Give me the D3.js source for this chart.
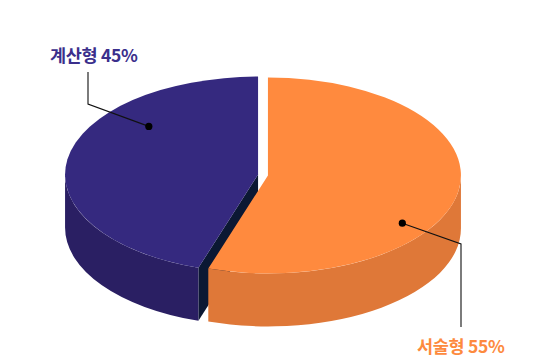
<!DOCTYPE html>
<html>
<head>
<meta charset="utf-8">
<script src="https://cdn.jsdelivr.net/npm/d3@7"></script>
<style>
  html, body { margin: 0; padding: 0; background: #fff; }
  svg { display: block; }
  .label { font-family: "Noto Sans CJK KR", "Noto Sans", sans-serif; font-weight: 700; font-size: 17.5px; letter-spacing: -0.3px; }
</style>
</head>
<body>
<svg id="chart" width="540" height="364"></svg>
<script>
const WIDTH = 540;
const HEIGHT = 364;

// data
const categories = ["서술형", "계산형"];
const values = [55, 45];
const topColors = ["#ff8a3e", "#35297f"];
const sideColors = ["#df7838", "#2a1f63"];
const cutColors = ["#a9521f", "#0b1833"];
const labelColors = ["#fd8a3e", "#3b2f8c"];

// geometry
const CX = 263, CY = 175;
const RX = 193, RY = 98;
const DEPTH = 53;
const EXPLODE = 5;

// where each label's dot sits on the top face (angle in degrees, radius fraction)
const dotSpots = [[125, 0.85], [311, 0.75]];
// elbow + text anchor for each leader
const leaders = [
  { elbow: [461, 244], end: [461, 327], text: [417, 353] },
  { elbow: [88, 104], end: [88, 72], text: [50, 62] }
];

const svg = d3.select("#chart");

const pie = d3.pie().sort(null).value(d => d);
const arcs = pie(values);

const pt = (c, a, f = 1, dz = 0) => [c[0] + RX * f * Math.sin(a), c[1] - RY * f * Math.cos(a) + dz];

arcs.forEach((d, i) => {
  const mid = (d.startAngle + d.endAngle) / 2;
  d.center = [CX + EXPLODE * Math.sin(mid), CY - EXPLODE * Math.cos(mid) * RY / RX];
  d.i = i;
});

function topPath(d) {
  const c = d.center;
  const p0 = pt(c, d.startAngle), p1 = pt(c, d.endAngle);
  const large = d.endAngle - d.startAngle > Math.PI ? 1 : 0;
  return `M${c[0]},${c[1]}L${p0[0]},${p0[1]}A${RX},${RY} 0 ${large} 1 ${p1[0]},${p1[1]}Z`;
}

function wallPath(d) {
  const a0 = Math.max(d.startAngle, Math.PI / 2);
  const a1 = Math.min(d.endAngle, Math.PI * 1.5);
  if (a1 <= a0) return null;
  const c = d.center;
  const t0 = pt(c, a0), t1 = pt(c, a1);
  const b0 = pt(c, a0, 1, DEPTH), b1 = pt(c, a1, 1, DEPTH);
  return `M${t0[0]},${t0[1]}A${RX},${RY} 0 0 1 ${t1[0]},${t1[1]}` +
    `L${b1[0]},${b1[1]}A${RX},${RY} 0 0 0 ${b0[0]},${b0[1]}Z`;
}

// cut face at the start angle, visible when it faces down the screen
function cutPath(d, a) {
  const c = d.center;
  const o = pt(c, a);
  const ob = pt(c, a, 1, DEPTH);
  return `M${c[0]},${c[1]}L${o[0]},${o[1]}L${ob[0]},${ob[1]}L${c[0]},${c[1] + DEPTH}Z`;
}

const g = svg.append("g");

// purple cut face (at its start angle) sits behind the orange slice
g.selectAll("path.cut")
  .data(arcs.filter(d => d.startAngle > Math.PI / 2 && d.startAngle < Math.PI * 1.5))
  .enter()
  .append("path")
  .attr("class", "cut")
  .attr("d", d => cutPath(d, d.startAngle))
  .attr("fill", d => cutColors[d.i]);

g.selectAll("path.wall")
  .data(arcs.slice().reverse())
  .enter()
  .append("path")
  .attr("class", "wall")
  .attr("d", wallPath)
  .attr("fill", d => sideColors[d.i]);

g.selectAll("path.top")
  .data(arcs.slice().reverse())
  .enter()
  .append("path")
  .attr("class", "top")
  .attr("d", topPath)
  .attr("fill", d => topColors[d.i]);

// labels with leader lines
arcs.forEach((d, i) => {
  const spot = dotSpots[i];
  const dot = pt(d.center, spot[0] * Math.PI / 180, spot[1]);
  const L = leaders[i];
  svg.append("polyline")
    .attr("points", [dot, L.elbow, L.end].map(p => p.join(",")).join(" "))
    .attr("fill", "none")
    .attr("stroke", "#111")
    .attr("stroke-width", 1.1);
  svg.append("circle")
    .attr("cx", dot[0])
    .attr("cy", dot[1])
    .attr("r", 3.6)
    .attr("fill", "#000");
  svg.append("text")
    .attr("class", "label")
    .attr("x", L.text[0])
    .attr("y", L.text[1])
    .attr("fill", labelColors[i])
    .text(categories[i] + " " + values[i] + "%");
});
</script>
</body>
</html>
